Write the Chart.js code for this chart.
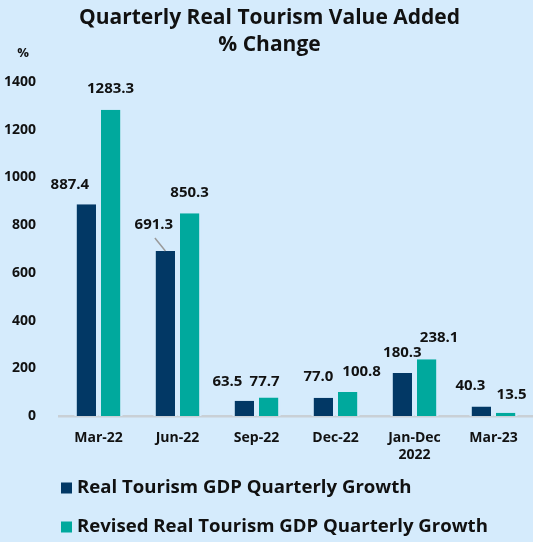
<!DOCTYPE html>
<html>
<head>
    <meta charset="UTF-8">
    <title>Quarterly Real Tourism Value Added</title>
    <script src="https://cdn.jsdelivr.net/npm/chart.js"></script>
    <style>
        html, body { margin: 0; padding: 0; background: #d5ebfc; }
        canvas { display: block; }
    </style>
</head>
<body>
    <canvas id="tourismChart" width="533" height="542"></canvas>
    <script>
        // chart data
        var categories = ['Mar-22', 'Jun-22', 'Sep-22', 'Dec-22', ['Jan-Dec', '2022'], 'Mar-23'];
        var realGrowth = [887.4, 691.3, 63.5, 77.0, 180.3, 40.3];
        var revisedGrowth = [1283.3, 850.3, 77.7, 100.8, 238.1, 13.5];
        var seriesNames = ['Real Tourism GDP Quarterly Growth', 'Revised Real Tourism GDP Quarterly Growth'];
        var yMin = 0, yMax = 1400, yStep = 200;

        var BG = '#d5ebfc';
        var DARK = '#023865';
        var TEAL = '#00a99d';
        var FONT = '"Open Sans", "DejaVu Sans", sans-serif';

        // label nudges [dx, gap above bar top] per dataset, as in the original layout
        var labelNudge = [
            [[-16.5, 20], [-11.5, 26], [-17, 19], [-5, 21], [0, 20], [-11, 21]],
            [[0, 21], [0, 20], [-4, 16], [14, 20], [12.5, 21], [6, 18]]
        ];

        var extras = {
            id: 'extras',
            beforeDraw: function(chart) {
                var c = chart.ctx;
                c.save();
                c.fillStyle = BG;
                c.fillRect(0, 0, chart.width, chart.height);
                c.restore();
            },
            afterDatasetsDraw: function(chart) {
                var c = chart.ctx;
                c.save();
                c.font = 'bold 15px ' + FONT;
                c.fillStyle = '#111';
                c.textAlign = 'center';
                c.textBaseline = 'middle';
                chart.data.datasets.forEach(function(ds, d) {
                    chart.getDatasetMeta(d).data.forEach(function(bar, i) {
                        var n = labelNudge[d][i];
                        var tx = bar.x + n[0], ty = bar.y - n[1];
                        c.fillText(ds.data[i].toFixed(1), tx, ty);
                        if (d === 0 && i === 1) {
                            // leader line
                            c.strokeStyle = '#9a9a9a';
                            c.lineWidth = 1.5;
                            c.beginPath();
                            c.moveTo(tx + 1, ty + 13);
                            c.lineTo(bar.x, bar.y);
                            c.stroke();
                        }
                    });
                });

                // unit label
                c.font = 'bold 13px ' + FONT;
                c.fillText('%', 23, 53);

                // legend
                c.textAlign = 'left';
                c.font = 'bold 18.6px ' + FONT;
                var colors = [DARK, TEAL];
                var rows = [488, 527];
                seriesNames.forEach(function(name, k) {
                    c.fillStyle = colors[k];
                    c.fillRect(61, rows[k] - 5.5, 11, 11);
                    c.fillStyle = '#111';
                    c.fillText(name, 77, rows[k]);
                });
                c.restore();
            }
        };

        var ctx = document.getElementById('tourismChart').getContext('2d');
        var chart = new Chart(ctx, {
            type: 'bar',
            data: {
                labels: categories,
                datasets: [{
                    label: seriesNames[0],
                    data: realGrowth,
                    backgroundColor: DARK,
                    borderColor: BG,
                    borderWidth: { left: 2.5, right: 2.5, top: 0, bottom: 0 },
                    borderSkipped: false,
                    categoryPercentage: 0.6125,
                    barPercentage: 1
                }, {
                    label: seriesNames[1],
                    data: revisedGrowth,
                    backgroundColor: TEAL,
                    borderColor: BG,
                    borderWidth: { left: 2.5, right: 2.5, top: 0, bottom: 0 },
                    borderSkipped: false,
                    categoryPercentage: 0.6125,
                    barPercentage: 1
                }]
            },
            options: {
                responsive: false,
                animation: false,
                layout: { padding: { left: 0, right: -6, top: 0, bottom: 76 } },
                plugins: {
                    legend: { display: false },
                    tooltip: { enabled: false },
                    title: {
                        display: true,
                        text: ['Quarterly Real Tourism Value Added', '% Change'],
                        color: '#111',
                        font: { family: FONT, size: 21, weight: 'bold', lineHeight: 1.3 },
                        padding: { top: 4, bottom: 23.4 }
                    }
                },
                scales: {
                    x: {
                        grid: { display: false },
                        border: { display: true, color: '#c9d0d6', width: 2.5 },
                        ticks: {
                            color: '#111',
                            padding: 6,
                            font: { family: FONT, size: 14, weight: 'bold', lineHeight: 1.2 }
                        },
                        afterFit: function(scale) { scale.height = 50; }
                    },
                    y: {
                        min: yMin,
                        max: yMax,
                        grid: { display: false },
                        border: { display: false },
                        ticks: {
                            stepSize: yStep,
                            color: '#111',
                            padding: 15,
                            font: { family: FONT, size: 14, weight: 'bold' },
                            callback: function(v) { return String(v); }
                        },
                        afterFit: function(scale) { scale.width = 59; }
                    }
                }
            },
            plugins: [extras]
        });
    </script>
</body>
</html>
